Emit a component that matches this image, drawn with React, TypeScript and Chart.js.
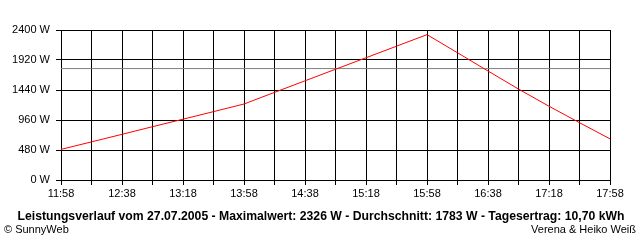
import React, { useEffect, useRef } from "react";
import { Chart, registerables } from "chart.js";

Chart.register(...registerables);

const times = [
  "11:58", "12:18", "12:38", "12:58", "13:18", "13:38", "13:58", "14:18", "14:38", "14:58",
  "15:18", "15:38", "15:58", "16:18", "16:38", "16:58", "17:18", "17:38", "17:58",
];
const power = [
  490, 610, 731, 853, 973, 1094, 1216, 1402, 1587, 1772,
  1956, 2141, 2326, 2036, 1744, 1455, 1180, 917, 658,
];
const averageValue = 1783;
const yTicks = [0, 480, 960, 1440, 1920, 2400];
const titleText =
  "Leistungsverlauf vom 27.07.2005 - Maximalwert: 2326 W - Durchschnitt: 1783 W - Tagesertrag: 10,70 kWh";
const leftCredit = "© SunnyWeb";
const rightCredit = "Verena & Heiko Weiß";

const FONT = "'Liberation Sans', Arial, sans-serif";

export default function App() {
  const ref = useRef<HTMLCanvasElement | null>(null);

  useEffect(() => {
    document.body.style.margin = "0";
    const canvas = ref.current;
    if (!canvas) return;

    const textPlugin = {
      id: "footerTexts",
      afterDraw(chart: any) {
        const ctx = chart.ctx;
        ctx.save();
        ctx.fillStyle = "#000";
        ctx.textBaseline = "alphabetic";
        ctx.font = `bold 12px ${FONT}`;
        ctx.textAlign = "center";
        const w = ctx.measureText(titleText).width;
        const target = 607;
        ctx.translate(321, 220);
        ctx.scale(target / w, 1);
        ctx.fillText(titleText, 0, 0);
        ctx.setTransform(1, 0, 0, 1, 0, 0);
        ctx.font = `11px ${FONT}`;
        ctx.textAlign = "left";
        ctx.fillText(leftCredit, 4, 233);
        ctx.textAlign = "right";
        ctx.fillText(rightCredit, 636, 233);
        ctx.restore();
      },
    };

    const chart = new Chart(canvas, {
      type: "line",
      data: {
        labels: times,
        datasets: [
          {
            data: power,
            borderColor: "#ff0000",
            borderWidth: 1,
            pointRadius: 0,
            tension: 0,
            fill: false,
          },
          {
            data: times.map(() => averageValue),
            borderColor: "#808080",
            borderWidth: 1,
            pointRadius: 0,
            fill: false,
          },
        ],
      },
      options: {
        animation: false,
        responsive: false,
        maintainAspectRatio: false,
        events: [],
        layout: { padding: { top: 30, right: 30, bottom: 40, left: 0 } },
        plugins: {
          legend: { display: false },
          tooltip: { enabled: false },
          title: { display: false },
        },
        scales: {
          x: {
            type: "category",
            offset: false,
            afterFit(scale: any) {
              scale.height = 20;
            },
            grid: {
              color: "#000",
              lineWidth: 1,
              drawTicks: true,
              tickLength: 5,
              tickColor: "#000",
            },
            border: { color: "#000", width: 1 },
            ticks: {
              autoSkip: false,
              maxRotation: 0,
              minRotation: 0,
              padding: 2,
              color: "#000",
              font: { family: FONT, size: 11 },
              callback: (_v: any, i: number) => (i % 2 === 0 ? times[i] : ""),
            },
          },
          y: {
            min: 0,
            max: 2400,
            afterFit(scale: any) {
              scale.width = 61;
            },
            afterBuildTicks(scale: any) {
              scale.ticks = yTicks.map((v) => ({ value: v }));
            },
            grid: {
              color: "#000",
              lineWidth: 1,
              drawTicks: true,
              tickLength: 5,
              tickColor: "#000",
            },
            border: { color: "#000", width: 1 },
            ticks: {
              padding: 6,
              color: "#000",
              font: { family: FONT, size: 11 },
              callback: (v: any) => `${v} W`,
            },
          },
        },
      },
      plugins: [textPlugin],
    } as any);

    return () => chart.destroy();
  }, []);

  return (
    <div style={{ width: 640, height: 240, background: "#fff" }}>
      <canvas ref={ref} width={640} height={240} style={{ display: "block" }} />
    </div>
  );
}
